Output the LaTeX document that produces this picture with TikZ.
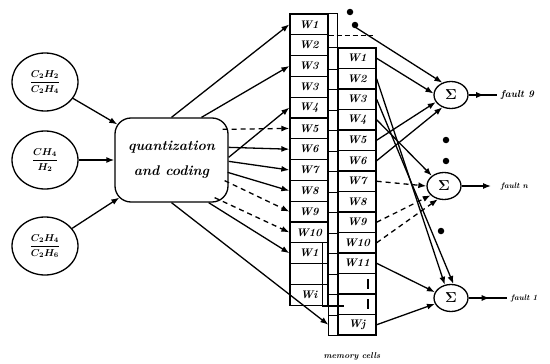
\documentclass[tikz,border=0pt]{standalone}
\usetikzlibrary{arrows.meta,calc,shapes.geometric,decorations.markings}
\begin{document}
\begin{tikzpicture}[x=1pt,y=-1pt,line width=1.3pt,
  ratio/.style={draw,ellipse,minimum width=66pt,minimum height=58pt,inner sep=0pt,
    font=\boldmath\fontsize{10}{12}\selectfont},
  quant/.style={draw,rounded corners=16pt,minimum width=113pt,minimum height=84pt,
    align=center,font=\bfseries\itshape\fontsize{14}{25}\selectfont},
  cellL/.style={draw,minimum width=38pt,minimum height=20.8pt,inner sep=0pt,
    font=\bfseries\itshape\fontsize{11}{11}\selectfont},
  cellR/.style={draw,minimum width=38pt,minimum height=20.5pt,inner sep=0pt,
    font=\bfseries\itshape\fontsize{11}{11}\selectfont},
  sum/.style={draw,ellipse,minimum width=34pt,minimum height=27pt,inner sep=0pt,
    font=\boldmath\fontsize{14}{14}\selectfont},
  feed/.style={-{Latex[length=8pt,width=6pt]}},
  feeddash/.style={feed,dash pattern=on 5pt off 4pt},
  midtip/.style={postaction={decorate},decoration={markings,
    mark=at position 0.55 with {\arrow{Latex[length=8pt,width=6pt]}}}},
  dot/.style={circle,fill,inner sep=0pt,minimum size=6.5pt},
  outlab/.style={anchor=west,font=\bfseries\itshape#1\selectfont},
]
\useasboundingbox (0,0) rectangle (550,364);

% input ratios
\node[ratio] (c1) at (45,82)  {$\displaystyle\frac{C_2H_2}{C_2H_4}$};
\node[ratio] (c2) at (45,160) {$\displaystyle\frac{CH_4}{H_2}$};
\node[ratio] (c3) at (45,246) {$\displaystyle\frac{C_2H_4}{C_2H_6}$};

% quantization block
\node[quant] (box) at (171.5,160) {quantization\\and coding};

\draw[feed] (c1) -- ([shift={(3,7)}]box.north west);
\draw[feed] (c2) -- (box.west);
\draw[feed] (c3) -- ([shift={(5,-5)}]box.south west);

% left column of memory cells
\foreach \lab [count=\i] in {W1,W2,W3,W3,W4,W5,W6,W7,W8,W9,W10,W1,{},Wi}
  \node[cellL] (L\i) at (309,{14+20.8*(\i-0.5)}) {\lab};

% right column of memory cells
\foreach \lab [count=\j] in {W1,W2,W3,W4,W5,W6,W7,W8,W9,W10,W11,{},{},Wj}
  \node[cellR] (R\j) at (357,{48+20.5*(\j-0.5)}) {\lab};
\draw ([xshift=-9pt]R1.north west) rectangle (R14.south west);
\foreach \j in {1,...,13}
  \draw ([xshift=-9pt]R\j.south west) -- (R\j.south west);

% top cell extension, dashed divider and stair line
\draw (L1.north east) -- (R1.north west |- L1.north east) -- (R1.north west);
\draw[dash pattern=on 5pt off 3pt] (L1.south east) -- ++(44,0);
\draw ([xshift=-6pt]L12.north east) -- ([xshift=-6pt]L14.south east) -- ++(21,0);
\draw (368,279) -- (368,289);
\draw (368,299) -- (368,309);

\node[dot] (d1) at (350,12) {};
\node[dot] (d2) at (355,25) {};
\coordinate (top) at (355,27);

% quantizer outputs to the cells
\draw[feed] (box.north) -- (L1.west);
\draw[feed] ([shift={(30,0)}]box.north) -- (L3.west);
\draw[feed] ([shift={(0,40)}]box.north east) -- (L5.west);
\draw[feeddash] ([shift={(-6,12)}]box.north east) -- (L6.west);
\draw[feed] ([shift={(0,30)}]box.north east) -- (L7.west);
\draw[feed] ([shift={(0,44)}]box.north east) -- (L8.west);
\draw[feed] ([shift={(-1,55)}]box.north east) -- (L9.west);
\draw[feeddash] ([shift={(-4,-22)}]box.south east) -- (L10.west);
\draw[feeddash] ([shift={(-14,-5)}]box.south east) -- (L11.west);
\draw[feed] ([shift={(-20,0)}]box.south east) -- (L12.west);
\draw[feed] (box.south) -- ([xshift=-9pt]R14.west);

% summing nodes
\node[sum] (S1) at (451,95)  {$\Sigma$};
\node[sum] (S2) at (444,186) {$\Sigma$};
\node[sum] (S3) at (451,298) {$\Sigma$};

\draw[feed] (top) -- (S1.125);
\draw[feed] (R1.east) -- (S1.175);
\draw[feed] (R5.east) -- (S1.205);
\draw[feed] (R6.east) -- (S1.235);
\draw[feed] (R2.east) -- (S3.115);
\draw[feed] (R3.east) -- (S3.80);
\draw[feed] (R4.east) -- (S2.140);
\draw[feeddash] (R7.east) -- (S2.180);
\draw[feeddash] (R9.east) -- (S2.215);
\draw[feeddash] (R10.east) -- (S2.245);
\draw[feed] (R11.east) -- (S3.160);
\draw[feed] (R14.east) -- (S3.200);

\node[dot] (d3) at (446,140) {};
\node[dot] (d4) at (446,161) {};
\node[dot] (d5) at (441,231) {};

% fault outputs
\node[outlab=\fontsize{10}{10}] (f1) at (497,95)  {fault 9};
\node[outlab=\fontsize{8}{8}]   (f2) at (497,186) {fault n};
\node[outlab=\fontsize{8}{8}]   (f3) at (507,298) {fault 1};
\draw[midtip] (S1.east) -- (f1.west);
\draw[feed] (S2.east) -- ([xshift=-6pt]f2.west);
\draw[midtip] (S3.east) -- (f3.west);

\node[font=\bfseries\itshape\fontsize{8.5}{9}\selectfont] (mc) at (352,356) {memory cells};
\end{tikzpicture}
\end{document}
